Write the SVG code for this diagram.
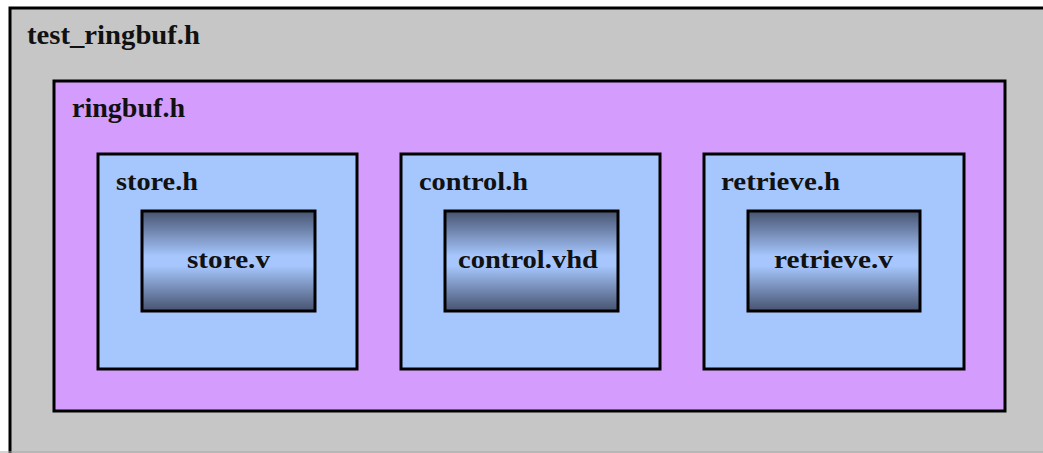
<svg xmlns="http://www.w3.org/2000/svg" width="1043" height="453" viewBox="0 0 1043 453">
  <style>
    .box { stroke: #000; stroke-width: 3; }
    .outer { fill: #c6c6c6; }
    .pkg { fill: #d39cfd; }
    .hdr { fill: #a6c7fd; }
    .mod { fill: url(#modGrad); }
    .lbl { font-family: "Liberation Serif", "Times New Roman", serif; font-weight: bold; fill: #111; }
    .big { font-size: 28px; }
    .small { font-size: 26px; }
  </style>
  <defs>
    <linearGradient id="modGrad" x1="0" y1="0" x2="0" y2="1">
      <stop offset="0" stop-color="#46536f"/>
      <stop offset="0.45" stop-color="#a6c6fd"/>
      <stop offset="0.55" stop-color="#a6c6fd"/>
      <stop offset="1" stop-color="#46536f"/>
    </linearGradient>
  </defs>

  <g id="test_ringbuf">
    <rect class="box outer" x="10" y="8" width="1045" height="455"/>
    <line x1="0" y1="452" x2="1043" y2="452" stroke="#a8a8a8" stroke-width="1"/>
    <text class="lbl big" x="27" y="44" textLength="173" lengthAdjust="spacingAndGlyphs">test_ringbuf.h</text>
  </g>

  <g id="ringbuf">
    <rect class="box pkg" x="54" y="81" width="951" height="330"/>
    <text class="lbl big" x="72" y="117" textLength="113" lengthAdjust="spacingAndGlyphs">ringbuf.h</text>
  </g>

  <g id="store">
    <rect class="box hdr" x="98" y="154" width="259" height="215"/>
    <text class="lbl small" x="116" y="190" textLength="82" lengthAdjust="spacingAndGlyphs">store.h</text>
    <g id="store_v">
      <rect class="box mod" x="142" y="211" width="173" height="100"/>
      <text class="lbl small" x="187" y="268" textLength="83" lengthAdjust="spacingAndGlyphs">store.v</text>
    </g>
  </g>

  <g id="control">
    <rect class="box hdr" x="401" y="154" width="259" height="215"/>
    <text class="lbl small" x="419" y="190" textLength="109" lengthAdjust="spacingAndGlyphs">control.h</text>
    <g id="control_vhd">
      <rect class="box mod" x="445" y="211" width="173" height="100"/>
      <text class="lbl small" x="458" y="268" textLength="140" lengthAdjust="spacingAndGlyphs">control.vhd</text>
    </g>
  </g>

  <g id="retrieve">
    <rect class="box hdr" x="704" y="154" width="260" height="215"/>
    <text class="lbl small" x="721" y="190" textLength="119" lengthAdjust="spacingAndGlyphs">retrieve.h</text>
    <g id="retrieve_v">
      <rect class="box mod" x="748" y="211" width="172" height="100"/>
      <text class="lbl small" x="774" y="268" textLength="119" lengthAdjust="spacingAndGlyphs">retrieve.v</text>
    </g>
  </g>

  <g id="connectors"/>
</svg>
